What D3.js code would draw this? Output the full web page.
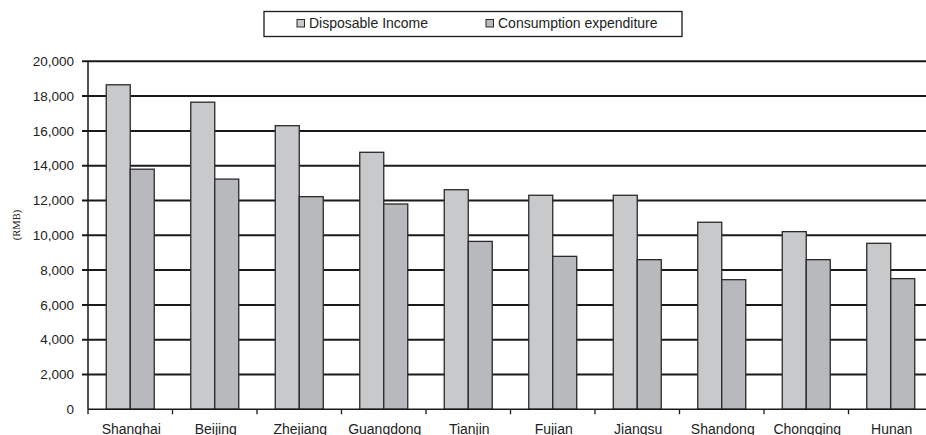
<!DOCTYPE html>
<html>
<head>
<meta charset="utf-8">
<script src="https://cdn.jsdelivr.net/npm/d3@7"></script>
<style>
  html, body { margin: 0; padding: 0; background: #fff; }
  svg { display: block; }
</style>
</head>
<body>
<svg id="chart" width="926" height="435"></svg>
<script>
// Per-capita figures by province (RMB)
const provinces = ["Shanghai", "Beijing", "Zhejiang", "Guangdong", "Tianjin",
                   "Fujian", "Jiangsu", "Shandong", "Chongqing", "Hunan"];
const disposableIncome = [18650, 17650, 16300, 14770, 12620, 12300, 12300, 10750, 10210, 9540];
const consumptionExpenditure = [13800, 13230, 12220, 11800, 9650, 8790, 8600, 7450, 8600, 7510];
const seriesNames = ["Disposable Income", "Consumption expenditure"];
const yTicks = [0, 2000, 4000, 6000, 8000, 10000, 12000, 14000, 16000, 18000, 20000];

const colors = ["#c8c9cb", "#b8b9bc"];
const svg = d3.select("#chart");

const plotLeft = 88, plotTop = 61.3, plotBottom = 409.3;
const bandW = 84.5;
const plotRight = plotLeft + bandW * provinces.length;

const x = d3.scaleBand().domain(provinces).range([plotLeft, plotRight]).paddingInner(0).paddingOuter(0);
const y = d3.scaleLinear().domain([0, 20000]).range([plotBottom, plotTop]);
const groupW = 48;
const xs = d3.scaleBand().domain(seriesNames).range([0, groupW]);

// horizontal gridlines (extend left as tick marks)
svg.append("g").selectAll("line").data(yTicks.filter(d => d > 0)).join("line")
  .attr("x1", plotLeft - 6).attr("x2", plotRight)
  .attr("y1", d => y(d)).attr("y2", d => y(d))
  .attr("stroke", "#1a1a1a").attr("stroke-width", 2);

// y tick labels
const fmt = d3.format(",");
svg.append("g").selectAll("text").data(yTicks).join("text")
  .attr("x", 74).attr("y", d => y(d)).attr("dy", "0.35em")
  .attr("text-anchor", "end")
  .attr("font-family", "Liberation Sans, Arial, sans-serif")
  .attr("font-size", 13.5).attr("fill", "#222")
  .text(d => fmt(d));

// bars
const rows = provinces.map((p, i) => ({ p, vals: [disposableIncome[i], consumptionExpenditure[i]] }));
const groups = svg.append("g").selectAll("g").data(rows).join("g")
  .attr("transform", d => `translate(${x(d.p) + (bandW - groupW) / 2},0)`);
groups.selectAll("rect").data(d => d.vals.map((v, k) => ({ v, k }))).join("rect")
  .attr("x", d => xs(seriesNames[d.k]))
  .attr("width", xs.bandwidth())
  .attr("y", d => y(d.v))
  .attr("height", d => plotBottom - y(d.v))
  .attr("fill", d => colors[d.k])
  .attr("stroke", "#2a2a2a").attr("stroke-width", 1.3);

// y axis line
svg.append("line").attr("x1", plotLeft).attr("x2", plotLeft).attr("y1", plotTop).attr("y2", plotBottom)
  .attr("stroke", "#1a1a1a").attr("stroke-width", 1.5);

// x axis
const xAxis = svg.append("g");
xAxis.append("line").attr("x1", plotLeft).attr("x2", plotRight).attr("y1", plotBottom).attr("y2", plotBottom)
  .attr("stroke", "#1a1a1a").attr("stroke-width", 1.5);
xAxis.selectAll("line.tick").data(d3.range(provinces.length + 1)).join("line")
  .attr("class", "tick")
  .attr("x1", i => plotLeft + i * bandW).attr("x2", i => plotLeft + i * bandW)
  .attr("y1", plotBottom).attr("y2", plotBottom + 5)
  .attr("stroke", "#1a1a1a").attr("stroke-width", 1.3);
xAxis.selectAll("text").data(provinces).join("text")
  .attr("x", d => x(d) + bandW / 2 + 1).attr("y", 433.5)
  .attr("text-anchor", "middle")
  .attr("font-family", "Liberation Sans, Arial, sans-serif")
  .attr("font-size", 14).attr("fill", "#222")
  .text(d => d);

// y axis title
svg.append("text")
  .attr("transform", "translate(20,225) rotate(-90)")
  .attr("text-anchor", "middle")
  .attr("font-family", "Liberation Serif, Times New Roman, serif")
  .attr("font-size", 10.5).attr("fill", "#222")
  .text("(RMB)");

// legend
const lg = svg.append("g");
lg.append("rect").attr("x", 264).attr("y", 11.5).attr("width", 418).attr("height", 25)
  .attr("fill", "#fff").attr("stroke", "#1a1a1a").attr("stroke-width", 1.3);
const legendX = [297, 486];
seriesNames.forEach((n, k) => {
  lg.append("rect").attr("x", legendX[k]).attr("y", 19.5).attr("width", 7.5).attr("height", 7.5)
    .attr("fill", colors[k]).attr("stroke", "#2a2a2a").attr("stroke-width", 1);
  lg.append("text").attr("x", legendX[k] + 12).attr("y", 23.5).attr("dy", "0.35em")
    .attr("font-family", "Liberation Sans, Arial, sans-serif")
    .attr("font-size", 14).attr("fill", "#222")
    .text(n);
});
</script>
</body>
</html>
